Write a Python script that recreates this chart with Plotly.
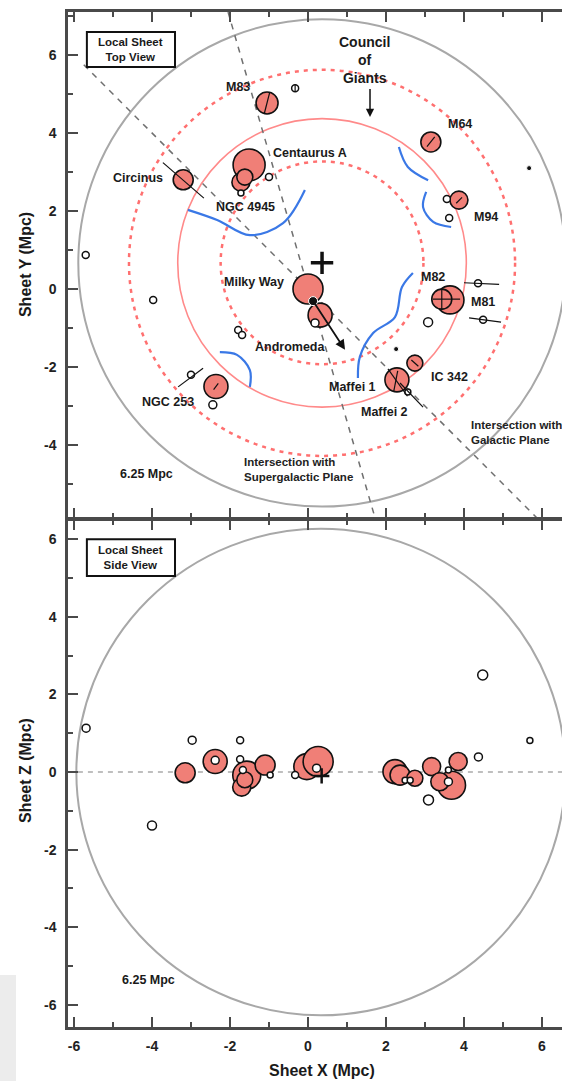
import plotly.graph_objects as go

# ---------------- TOP VIEW DATA (Sheet X, Sheet Y in Mpc) ----------------
giant_names = ["Circinus", "M83", "Centaurus A", "NGC 4945", "NGC 4945b", "M64", "M94",
               "Milky Way", "Andromeda", "M81", "M82", "Maffei 1", "IC 342", "NGC 253"]
giant_x = [-3.20, -1.05, -1.51, -1.72, -1.62, 3.15, 3.87, 0.00, 0.31, 3.64, 3.43, 2.28, 2.74, -2.36]
giant_y = [2.80, 4.77, 3.18, 2.74, 2.87, 3.77, 2.28, 0.00, -0.67, -0.28, -0.26, -2.33, -1.90, -2.50]
giant_size = [20, 22, 32, 18, 16, 20, 18, 30, 24, 28, 20, 24, 16, 24]

dwarf_x = [-0.33, -1.00, -1.72, 3.56, 3.62, 4.36, 4.49, 3.08, -3.97, -5.70, -1.79, -1.69, 0.18, -3.00, -2.44, 2.56]
dwarf_y = [5.15, 2.87, 2.46, 2.31, 1.82, 0.15, -0.79, -0.85, -0.28, 0.87, -1.05, -1.18, -0.87, -2.20, -2.97, -2.64]
dwarf_size = [7, 7, 6, 7, 7, 7, 7, 9, 7, 7, 7, 7, 8, 7, 8, 6]

dot_x = [5.67, 2.26]
dot_y = [3.10, -1.54]

centre_x, centre_y = 0.36, 0.67          # Local Sheet centre (+)
ring_radius = [2.6, 3.7, 4.95, 6.25]      # inner dashed, council (solid), outer dashed, 6.25 Mpc

# plane intersections (dashed grey lines)
galactic_x = [-5.75, 6.60]
galactic_y = [5.75, -6.60]
supergal_x = [-2.05, 1.72]
supergal_y = [7.10, -5.87]

# orientation segments through galaxies
seg_x0 = [-3.72, -1.12, 3.05, -2.42, 3.80, 3.43, 3.20, 2.05, 2.30, 2.36, 2.65, 4.00, 4.13, -3.33, -0.33]
seg_y0 = [3.24, 4.50, 3.65, -2.58, 2.20, -0.02, -0.26, -2.05, -2.10, -2.41, -1.82, 0.16, -0.74, -2.51, 5.05]
seg_x1 = [-2.67, -0.98, 3.25, -2.30, 3.95, 3.43, 3.90, 2.55, 2.20, 2.95, 2.83, 4.90, 4.95, -2.69, -0.33]
seg_y1 = [2.33, 5.05, 3.90, -2.42, 2.35, -0.52, -0.26, -2.75, -2.62, -3.03, -1.98, 0.12, -0.85, -2.03, 5.25]

# blue "zone of avoidance" arcs
arc1_x = [-3.08, -2.33, -1.49, -0.64, -0.08]
arc1_y = [2.03, 1.77, 1.38, 1.69, 2.54]
arc2_x = [2.33, 2.56, 3.08]
arc2_y = [3.64, 3.13, 2.79]
arc3_x = [3.03, 2.95, 3.21, 3.67]
arc3_y = [2.49, 2.10, 1.72, 1.59]
arc4_x = [2.69, 2.41, 2.23, 1.67, 1.33, 1.28]
arc4_y = [0.41, 0.05, -0.72, -1.13, -1.74, -2.28]
arc5_x = [-2.26, -1.82, -1.49, -1.49]
arc5_y = [-1.62, -1.69, -2.08, -2.51]

# Andromeda motion arrow (tail -> head)
arrow_tail = (0.13, -0.31)
arrow_head = (0.95, -1.56)

label_text = ["M83", "Centaurus A", "Circinus", "NGC 4945", "M64", "M94", "Milky Way", "M82",
              "M81", "Andromeda", "IC 342", "Maffei 1", "Maffei 2", "NGC 253"]
label_x = [-1.79, 0.04, -4.36, -1.60, 3.90, 4.56, -1.38, 3.21, 4.49, -0.44, 3.64, 1.13, 1.97, -3.59]
label_y = [5.18, 3.49, 2.85, 2.10, 4.23, 1.85, 0.18, 0.31, -0.34, -1.49, -2.26, -2.51, -3.15, -2.90]

# ---------------- SIDE VIEW DATA (Sheet X, Sheet Z in Mpc) ----------------
side_giant_x = [-3.15, -2.38, -1.57, -1.10, -1.70, -1.62, -0.03, 0.26, 2.23, 2.36, 2.74, 3.17, 3.85, 3.68, 3.38]
side_giant_z = [-0.02, 0.27, -0.08, 0.18, -0.39, -0.20, 0.14, 0.27, 0.01, -0.08, -0.16, 0.14, 0.27, -0.34, -0.25]
side_giant_size = [20, 24, 28, 20, 18, 16, 26, 30, 24, 20, 16, 18, 18, 28, 18]

side_dwarf_x = [-5.69, -2.97, -1.74, -2.38, -1.74, -1.67, -0.97, -0.33, 0.22, 2.49, 2.62, 3.60, 3.60, 4.37, 3.09, 5.69, 4.48, -4.00]
side_dwarf_z = [1.13, 0.82, 0.82, 0.30, 0.33, 0.05, -0.08, -0.08, 0.10, -0.21, -0.21, -0.25, 0.05, 0.39, -0.72, 0.81, 2.50, -1.38]
side_dwarf_size = [8, 8, 7, 8, 7, 7, 6, 7, 8, 6, 6, 8, 6, 8, 10, 6, 10, 9]

side_centre_x, side_centre_z = 0.33, 0.0

x_ticks = [-6, -4, -2, 0, 2, 4, 6]
x_ticktext = ["-6", "-4", "-2", "0", "2", "4", "6"]
y_ticks = [-4, -2, 0, 2, 4, 6]
y_ticktext = ["-4", "-2", "0", "2", "4", "6"]
z_ticks = [-6, -4, -2, 0, 2, 4, 6]
z_ticktext = ["-6", "-4", "-2", "0", "2", "4", "6"]

# ---------------- STYLE ----------------
FONT = "Liberation Sans"
SALMON = "#f07f77"
RED = "#ff8a8a"
BLUE = "#3a78e6"

fig = go.Figure()

def line(x, y, xa, ya, color, width, dash="solid", shape="linear"):
    fig.add_trace(go.Scatter(x=x, y=y, xaxis=xa, yaxis=ya, mode="lines",
                             line=dict(color=color, width=width, dash=dash, shape=shape),
                             hoverinfo="skip", showlegend=False))

# top panel lines
line(galactic_x, galactic_y, "x", "y", "#6f6f6f", 1.5, "6px,6px")
line(supergal_x, supergal_y, "x", "y", "#6f6f6f", 1.5, "6px,6px")
for ax_, ay_ in [(arc1_x, arc1_y), (arc2_x, arc2_y), (arc3_x, arc3_y), (arc4_x, arc4_y), (arc5_x, arc5_y)]:
    line(ax_, ay_, "x", "y", BLUE, 2.2, shape="spline")

# top panel galaxies
fig.add_trace(go.Scatter(x=giant_x, y=giant_y, xaxis="x", yaxis="y", mode="markers",
                         marker=dict(size=giant_size, color=SALMON, opacity=1,
                                     line=dict(color="#111", width=1.6)),
                         text=giant_names, hoverinfo="text", showlegend=False))
fig.add_trace(go.Scatter(x=dwarf_x, y=dwarf_y, xaxis="x", yaxis="y", mode="markers",
                         marker=dict(size=dwarf_size, color="white", opacity=1,
                                     line=dict(color="#111", width=1.5)),
                         hoverinfo="skip", showlegend=False))
# segments
for i in range(len(seg_x0)):
    line([seg_x0[i], seg_x1[i]], [seg_y0[i], seg_y1[i]], "x", "y", "#111", 1.2)
fig.add_trace(go.Scatter(x=dot_x + [arrow_tail[0]], y=dot_y + [arrow_tail[1]], xaxis="x", yaxis="y",
                         mode="markers", marker=dict(size=[5, 5, 9], color="#111", opacity=1),
                         hoverinfo="skip", showlegend=False))
fig.add_trace(go.Scatter(x=[centre_x], y=[centre_y], xaxis="x", yaxis="y", mode="markers",
                         marker=dict(symbol="cross-thin", size=16, line=dict(color="#111", width=3.5)),
                         hoverinfo="skip", showlegend=False))

# bottom panel
line([-5.9, 6.6], [0, 0], "x2", "y2", "#aaaaaa", 1.5, "5px,5px")
fig.add_trace(go.Scatter(x=side_giant_x, y=side_giant_z, xaxis="x2", yaxis="y2", mode="markers",
                         marker=dict(size=side_giant_size, color=SALMON, opacity=1,
                                     line=dict(color="#111", width=1.6)),
                         hoverinfo="skip", showlegend=False))
fig.add_trace(go.Scatter(x=side_dwarf_x, y=side_dwarf_z, xaxis="x2", yaxis="y2", mode="markers",
                         marker=dict(size=side_dwarf_size, color="white", opacity=1,
                                     line=dict(color="#111", width=1.5)),
                         hoverinfo="skip", showlegend=False))
fig.add_trace(go.Scatter(x=[0.35], y=[-0.1], xaxis="x2", yaxis="y2", mode="markers",
                         marker=dict(symbol="cross-thin", size=11, line=dict(color="#111", width=2.5)),
                         hoverinfo="skip", showlegend=False))

# ---------------- SHAPES ----------------
shapes = []
def circ(cx, cy, r, xr, yr, color, width, dash="solid"):
    shapes.append(dict(type="circle", xref=xr, yref=yr, x0=cx - r, x1=cx + r, y0=cy - r, y1=cy + r,
                       line=dict(color=color, width=width, dash=dash), layer="below"))

circ(centre_x, centre_y, ring_radius[0], "x", "y", "#ff7070", 2.5, "4px,5px")
circ(centre_x, centre_y, ring_radius[1], "x", "y", RED, 1.6)
circ(centre_x, centre_y, ring_radius[2], "x", "y", "#ff7070", 2.5, "4px,5px")
circ(centre_x, centre_y, ring_radius[3], "x", "y", "#a8a8a8", 2)
circ(side_centre_x, side_centre_z, 6.27, "x2", "y2", "#a8a8a8", 2)

box_top = dict(x0=-5.67, x1=-3.41, y0=5.69, y1=6.59)
box_side = dict(x0=-5.67, x1=-3.41, y0=5.05, y1=6.0)
shapes.append(dict(type="rect", xref="x", yref="y", **box_top, line=dict(color="#111", width=2),
                   fillcolor="white"))
shapes.append(dict(type="rect", xref="x2", yref="y2", **box_side, line=dict(color="#111", width=2),
                   fillcolor="white"))
# background patch from the source screenshot
shapes.append(dict(type="rect", xref="paper", yref="paper", x0=-0.1377, x1=-0.1053, y0=-0.0532, y1=0.0512,
                   line=dict(width=0), fillcolor="#ececec", layer="below"))

# ---------------- ANNOTATIONS ----------------
ann = []
bold = dict(family=FONT, size=12.5, color="#1a1a1a", weight="bold")
for t, x, y in zip(label_text, label_x, label_y):
    ann.append(dict(x=x, y=y, xref="x", yref="y", text=t, showarrow=False, font=bold,
                    xanchor="center", yanchor="middle"))
ann.append(dict(x=1.46, y=5.87, xref="x", yref="y", text="Council<br>of<br>Giants", showarrow=False,
                font=dict(family=FONT, size=14, color="#1a1a1a", weight="bold"), xanchor="center", yanchor="middle"))
ann.append(dict(x=1.59, y=4.41, ax=1.59, ay=5.17, xref="x", yref="y", axref="x", ayref="y", text="",
                showarrow=True, arrowhead=2, arrowsize=1.1, arrowwidth=1.5, arrowcolor="#111"))
ann.append(dict(x=arrow_head[0], y=arrow_head[1], ax=arrow_tail[0], ay=arrow_tail[1], xref="x", yref="y",
                axref="x", ayref="y", text="", showarrow=True, arrowhead=2, arrowsize=1.1,
                arrowwidth=1.8, arrowcolor="#111"))
small = dict(family=FONT, size=11.5, color="#222", weight="bold")
ann.append(dict(x=4.13, y=-3.67, xref="x", yref="y", text="Intersection with<br>Galactic Plane",
                showarrow=False, font=small, xanchor="left", yanchor="middle", align="left"))
ann.append(dict(x=-1.69, y=-4.64, xref="x", yref="y", text="Intersection with<br>Supergalactic Plane",
                showarrow=False, font=small, xanchor="left", yanchor="middle", align="left"))
ann.append(dict(x=-4.13, y=-4.74, xref="x", yref="y", text="6.25 Mpc", showarrow=False, font=bold))
ann.append(dict(x=-4.08, y=-5.36, xref="x2", yref="y2", text="6.25 Mpc", showarrow=False, font=bold))
boxfont = dict(family=FONT, size=11.5, color="#1a1a1a", weight="bold")
ann.append(dict(x=-4.54, y=6.14, xref="x", yref="y", text="Local Sheet<br>Top View", showarrow=False, font=boxfont))
ann.append(dict(x=-4.54, y=5.52, xref="x2", yref="y2", text="Local Sheet<br>Side View", showarrow=False, font=boxfont))
title_font = dict(family=FONT, size=16, color="#1a1a1a", weight="bold")
ann.append(dict(x=-0.087, y=0.7507, xref="paper", yref="paper", text="Sheet Y (Mpc)", textangle=-90,
                showarrow=False, font=title_font, xanchor="center", yanchor="middle"))
ann.append(dict(x=-0.087, y=0.2522, xref="paper", yref="paper", text="Sheet Z (Mpc)", textangle=-90,
                showarrow=False, font=title_font, xanchor="center", yanchor="middle"))
ann.append(dict(x=0.514, y=-0.0424, xref="paper", yref="paper", text="Sheet X (Mpc)",
                showarrow=False, font=title_font, xanchor="center", yanchor="middle"))

tickfont = dict(family=FONT, size=14, color="#222", weight="bold")
axis_common = dict(showgrid=False, zeroline=False, showline=True, linecolor="#4a4a4a", linewidth=2.5,
                   ticks="inside", ticklen=10, tickwidth=2, tickcolor="#4a4a4a",
                   minor=dict(dtick=1, tick0=0, ticks="inside", ticklen=5, tickwidth=1.5, tickcolor="#4a4a4a"),
                   tickfont=tickfont)

fig.update_layout(
    width=562, height=1081,
    margin=dict(l=68, r=0, t=12, b=54),
    paper_bgcolor="white", plot_bgcolor="white",
    showlegend=False,
    xaxis=dict(domain=[0, 1], range=[-6.154, 6.513], anchor="y", tickvals=x_ticks, ticktext=x_ticktext,
               showticklabels=False, mirror="ticks", **axis_common),
    yaxis=dict(domain=[0.50148, 1], range=[-5.872, 7.103], anchor="x", tickvals=y_ticks, ticktext=y_ticktext,
               ticklabelstandoff=6, **axis_common),
    xaxis2=dict(domain=[0, 1], range=[-6.154, 6.513], anchor="y2", tickvals=x_ticks, ticktext=x_ticktext,
                mirror="ticks", ticklabelstandoff=4, **axis_common),
    yaxis2=dict(domain=[0, 0.49951], range=[-6.572, 6.495], anchor="x2", tickvals=z_ticks, ticktext=z_ticktext,
                ticklabelstandoff=6, **axis_common),
    shapes=shapes,
    annotations=ann,
)

fig.write_html("out.html")
